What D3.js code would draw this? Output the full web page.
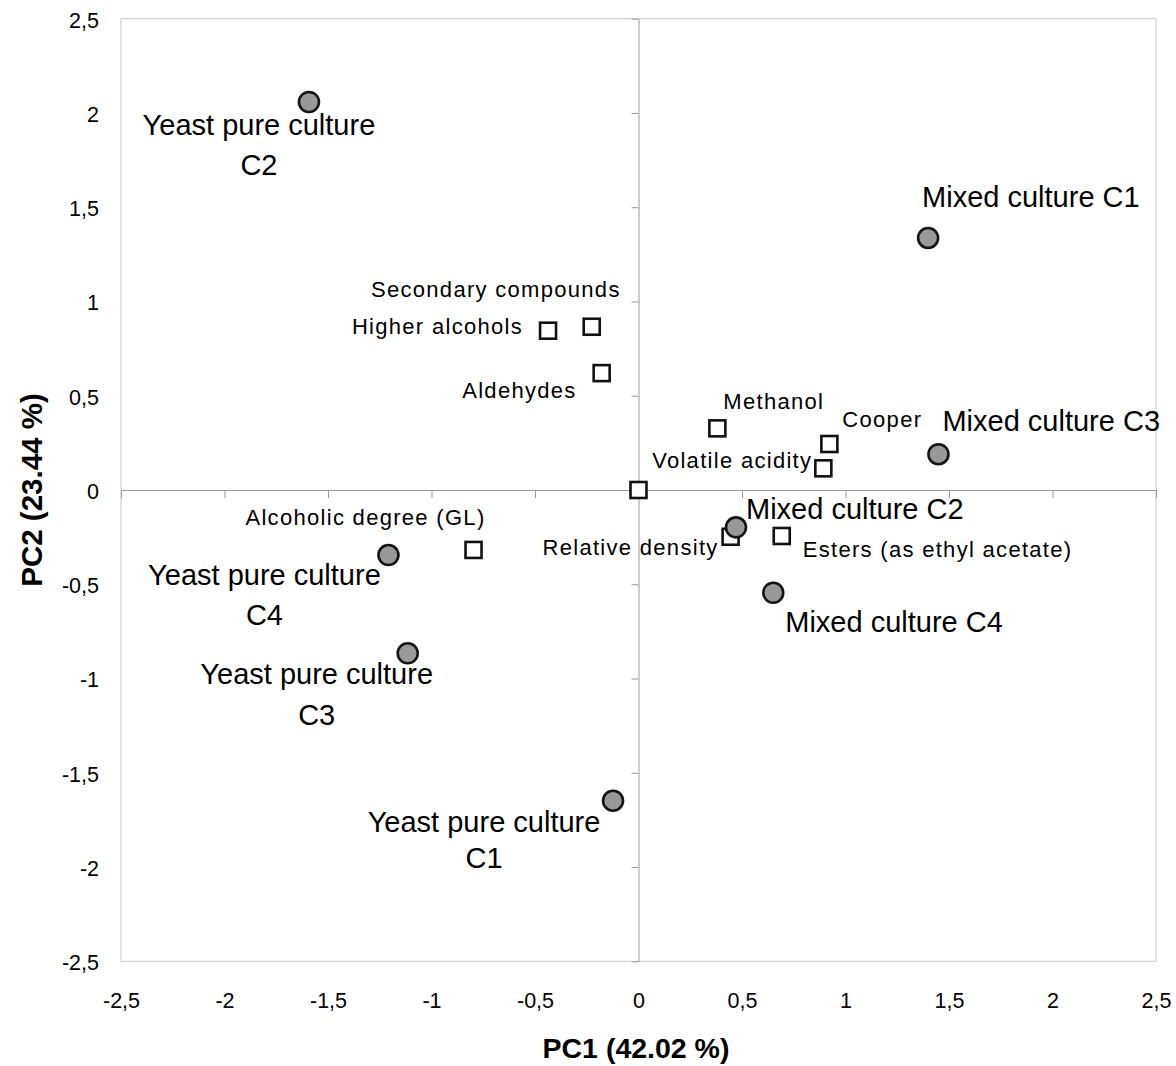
<!DOCTYPE html>
<html>
<head>
<meta charset="utf-8">
<script src="https://cdn.jsdelivr.net/npm/d3@7"></script>
<style>
  html, body { margin: 0; padding: 0; background: #fff; }
  svg { display: block; font-family: "Liberation Sans", Arial, sans-serif; }
</style>
</head>
<body>
<svg id="chart" width="1176" height="1066"></svg>
<script>
// PCA scores of the fermentations (circles)
const sampleNames = [
  "Yeast pure culture C2", "Yeast pure culture C4", "Yeast pure culture C3", "Yeast pure culture C1",
  "Mixed culture C1", "Mixed culture C3", "Mixed culture C2", "Mixed culture C4"
];
const samplePC1 = [-1.592, -1.208, -1.115, -0.123, 1.399, 1.449, 0.471, 0.651];
const samplePC2 = [2.058, -0.345, -0.866, -1.648, 1.337, 0.19, -0.198, -0.545];

// PCA loadings of the measured compounds (squares)
const variableNames = [
  "Higher alcohols", "Secondary compounds", "Aldehydes", "Methanol", "Cooper",
  "Volatile acidity", "", "Relative density", "Esters (as ethyl acetate)", "Alcoholic degree (GL)"
];
const variablePC1 = [-0.437, -0.226, -0.178, 0.381, 0.922, 0.893, 0, 0.445, 0.692, -0.797];
const variablePC2 = [0.845, 0.866, 0.62, 0.327, 0.244, 0.115, 0, -0.248, -0.244, -0.318];

const tickValues = [-2.5, -2, -1.5, -1, -0.5, 0, 0.5, 1, 1.5, 2, 2.5];
const xTitle = "PC1 (42.02 %)";
const yTitle = "PC2 (23.44 %)";

// label placement relative to each mark (pixels)
const sampleLabelLayout = [
  { anchor: "middle", dx: -50, dy: 33, gap: 40 },
  { anchor: "middle", dx: -124, dy: 30, gap: 40 },
  { anchor: "middle", dx: -91, dy: 31, gap: 41 },
  { anchor: "middle", dx: -129, dy: 31, gap: 36 },
  { anchor: "start", dx: -6, dy: -31 },
  { anchor: "start", dx: 4, dy: -23 },
  { anchor: "start", dx: 10, dy: -8 },
  { anchor: "start", dx: 12, dy: 39 }
];
const variableLabelLayout = [
  { anchor: "end", dx: -25, dy: 3 },
  { anchor: "end", dx: 29, dy: -30 },
  { anchor: "end", dx: -25, dy: 25 },
  { anchor: "start", dx: 6, dy: -19 },
  { anchor: "start", dx: 13, dy: -17 },
  { anchor: "end", dx: -11, dy: 0 },
  null,
  { anchor: "end", dx: -12, dy: 18 },
  { anchor: "start", dx: 21, dy: 21 },
  { anchor: "end", dx: 12, dy: -25 }
];

const svg = d3.select("#chart");
const x = d3.scaleLinear().domain([-2.5, 2.5]).range([121, 1156]);
const y = d3.scaleLinear().domain([-2.5, 2.5]).range([961.3, 18.7]);

const locale = d3.formatLocale({ decimal: ",", thousands: ".", grouping: [3], currency: ["", ""], minus: "-" });
const fmt = locale.format("");

// plot frame
svg.append("rect")
  .attr("x", x(-2.5)).attr("y", y(2.5))
  .attr("width", x(2.5) - x(-2.5)).attr("height", y(-2.5) - y(2.5))
  .attr("fill", "none").attr("stroke", "#c8c8c8").attr("stroke-width", 1);

// axes crossing at the origin
const xAxis = svg.append("g")
  .attr("transform", `translate(0,${y(0)})`)
  .call(d3.axisBottom(x).tickValues(tickValues).tickSize(8).tickSizeOuter(0).tickFormat(""));
const yAxis = svg.append("g")
  .attr("transform", `translate(${x(0)},0)`)
  .call(d3.axisLeft(y).tickValues(tickValues).tickSize(7).tickSizeOuter(0).tickFormat(""));
[xAxis, yAxis].forEach(g => {
  g.selectAll("path, line").attr("stroke", "#9a9a9a").attr("stroke-width", 1);
});

// tick labels along the frame
const xLabels = svg.append("g")
  .attr("transform", "translate(0,993)")
  .call(d3.axisBottom(x).tickValues(tickValues).tickSize(0).tickPadding(0).tickFormat(fmt));
const yLabels = svg.append("g")
  .attr("transform", "translate(99,1.5)")
  .call(d3.axisLeft(y).tickValues(tickValues).tickSize(0).tickPadding(0).tickFormat(fmt));
[xLabels, yLabels].forEach(g => {
  g.select(".domain").remove();
  g.selectAll("text").attr("font-size", 21.5).attr("fill", "#000")
    .attr("font-family", "'Liberation Sans', Arial, sans-serif");
});

// axis titles
svg.append("text")
  .attr("x", 636).attr("y", 1058)
  .attr("text-anchor", "middle").attr("font-size", 28.5).attr("font-weight", "bold")
  .text(xTitle);
svg.append("text")
  .attr("transform", "translate(42,490) rotate(-90)")
  .attr("text-anchor", "middle").attr("font-size", 29.5).attr("font-weight", "bold")
  .text(yTitle);

// compound loadings
const variables = variableNames.map((name, i) => ({ name, pc1: variablePC1[i], pc2: variablePC2[i], lay: variableLabelLayout[i] }));
const sq = 16;
svg.append("g").selectAll("rect").data(variables).join("rect")
  .attr("x", d => x(d.pc1) - sq / 2).attr("y", d => y(d.pc2) - sq / 2)
  .attr("width", sq).attr("height", sq)
  .attr("fill", "#fff").attr("stroke", "#111").attr("stroke-width", 2.6);
svg.append("g").selectAll("text").data(variables.filter(d => d.lay)).join("text")
  .attr("x", d => x(d.pc1) + d.lay.dx).attr("y", d => y(d.pc2) + d.lay.dy)
  .attr("text-anchor", d => d.lay.anchor)
  .attr("font-size", 22).attr("letter-spacing", "1.3px").attr("fill", "#000")
  .text(d => d.name);

// sample scores
const samples = sampleNames.map((name, i) => ({ name, pc1: samplePC1[i], pc2: samplePC2[i], lay: sampleLabelLayout[i] }));
svg.append("g").selectAll("circle").data(samples).join("circle")
  .attr("cx", d => x(d.pc1)).attr("cy", d => y(d.pc2)).attr("r", 10)
  .attr("fill", "#999999").attr("stroke", "#141414").attr("stroke-width", 2.6);

const sampleLabels = svg.append("g").selectAll("text").data(samples).join("text")
  .attr("x", d => x(d.pc1) + d.lay.dx).attr("y", d => y(d.pc2) + d.lay.dy)
  .attr("text-anchor", d => d.lay.anchor)
  .attr("font-size", 29).attr("fill", "#000");
// yeast labels wrap onto two centred lines: "Yeast pure culture" / "Cn"
sampleLabels.each(function (d) {
  const t = d3.select(this);
  if (d.lay.gap) {
    const cut = d.name.lastIndexOf(" ");
    t.append("tspan").attr("x", x(d.pc1) + d.lay.dx).text(d.name.slice(0, cut));
    t.append("tspan").attr("x", x(d.pc1) + d.lay.dx).attr("dy", d.lay.gap).text(d.name.slice(cut + 1));
  } else {
    t.text(d.name);
  }
});
</script>
</body>
</html>
